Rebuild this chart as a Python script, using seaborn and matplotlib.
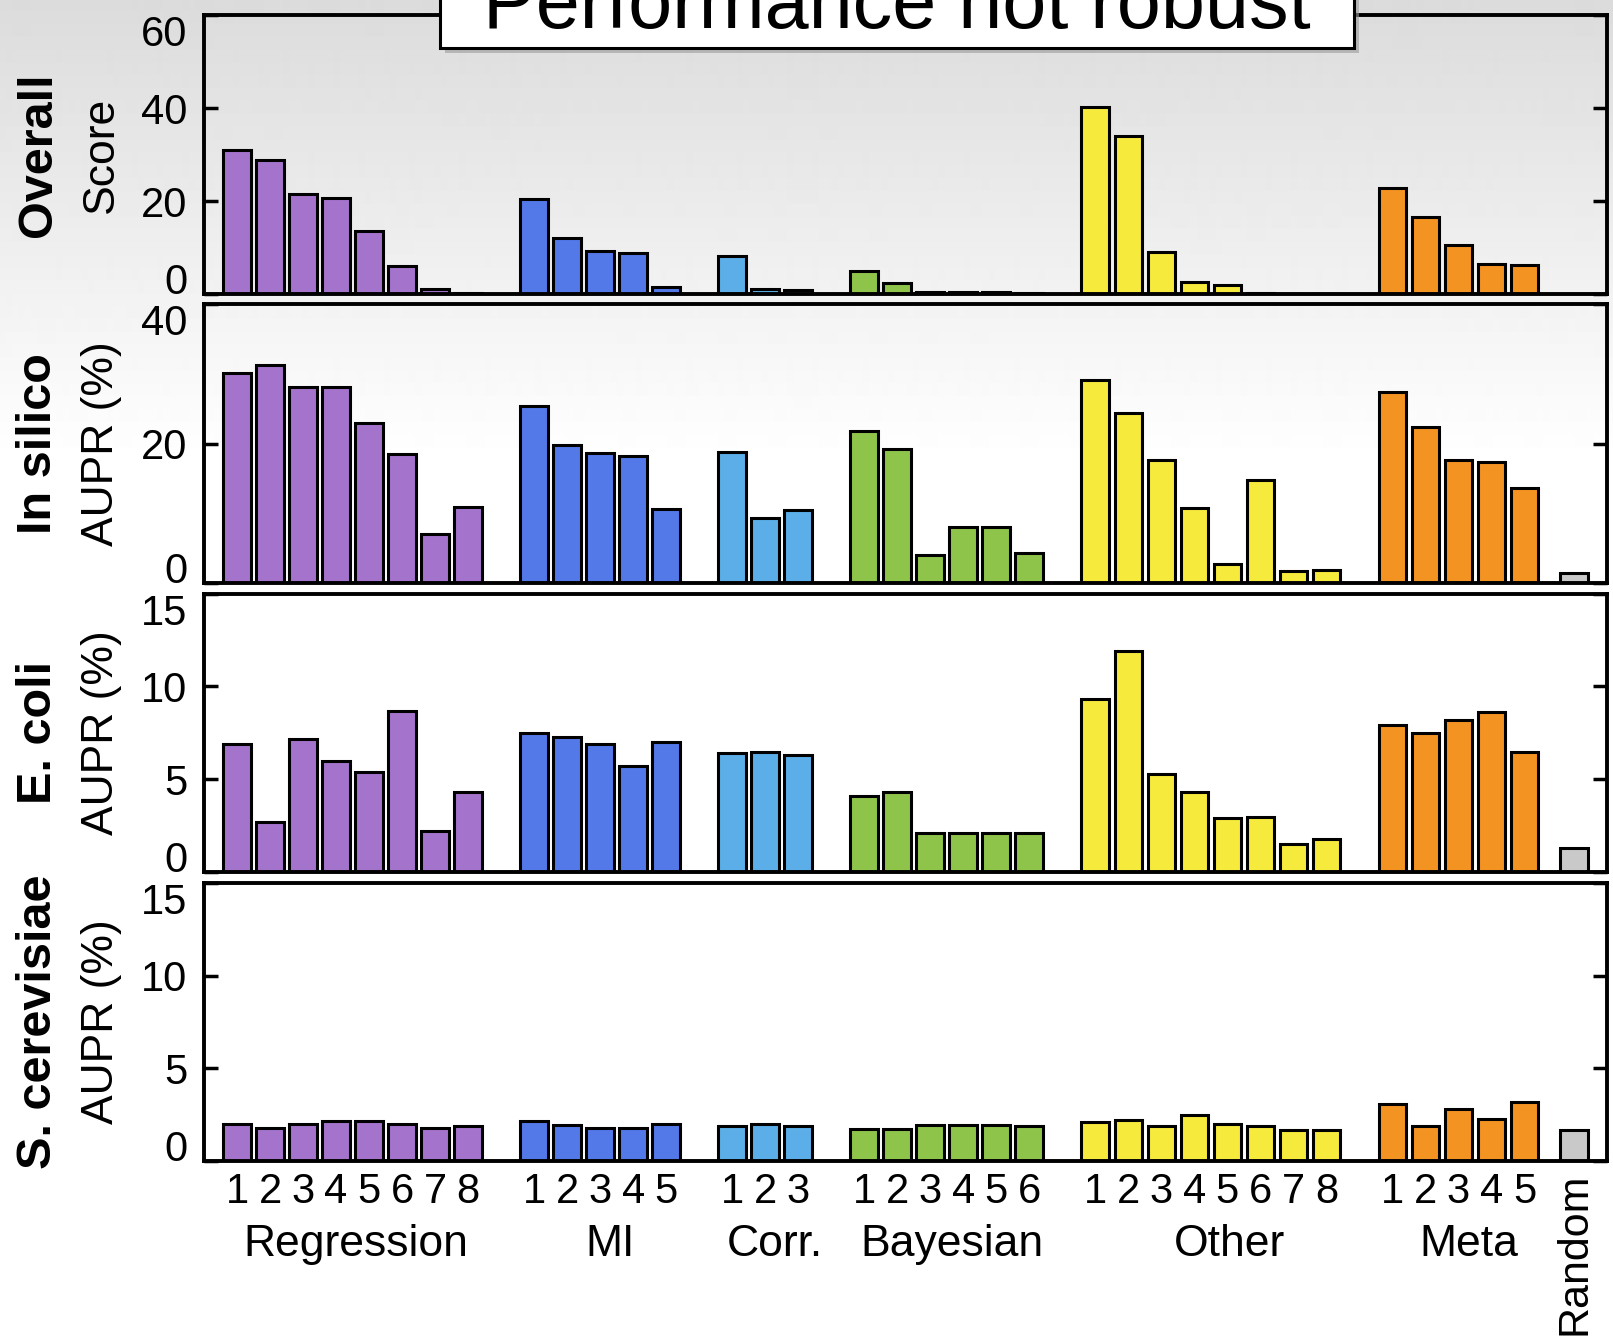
import numpy as np
import pandas as pd
import seaborn as sns
import matplotlib.pyplot as plt
from matplotlib.patches import Rectangle
from matplotlib.transforms import blended_transform_factory

# Method groups and how many methods each one has
groups = ['Regression', 'MI', 'Corr.', 'Bayesian', 'Other', 'Meta', 'Random']
group_sizes = [8, 5, 3, 6, 8, 5, 1]
palette = {'Regression': '#A474CC', 'MI': '#5378E8', 'Corr.': '#5CAEE8',
           'Bayesian': '#8FC44B', 'Other': '#F6EA3D', 'Meta': '#F39322',
           'Random': '#C9C9C9'}

# Values (order: groups above, Random last)
overall = [31.0, 28.8, 21.5, 20.8, 13.5, 6.0, 1.1, 0.3,
           20.4, 12.2, 9.3, 8.9, 1.5,
           8.2, 1.2, 0.8,
           4.9, 2.4, 0.5, 0.4, 0.4, 0.2,
           40.3, 34.1, 9.1, 2.7, 2.0, 0.3, 0.0, 0.0,
           22.8, 16.6, 10.6, 6.4, 6.2,
           np.nan]
in_silico = [30.1, 31.3, 28.2, 28.2, 23.0, 18.6, 7.1, 10.9,
             25.5, 19.8, 18.7, 18.2, 10.6,
             18.9, 9.4, 10.5,
             21.8, 19.2, 4.1, 8.0, 8.0, 4.3,
             29.1, 24.5, 17.7, 10.8, 2.7, 14.8, 1.8, 1.9,
             27.5, 22.4, 17.7, 17.4, 13.6,
             1.5]
e_coli = [6.9, 2.7, 7.2, 6.0, 5.4, 8.7, 2.2, 4.3,
          7.5, 7.3, 6.9, 5.7, 7.0,
          6.4, 6.5, 6.3,
          4.1, 4.3, 2.1, 2.1, 2.1, 2.1,
          9.3, 11.9, 5.3, 4.3, 2.9, 3.0, 1.5, 1.8,
          7.9, 7.5, 8.2, 8.6, 6.5,
          1.3]
s_cerevisiae = [2.0, 1.8, 2.0, 2.15, 2.15, 2.0, 1.8, 1.9,
                2.15, 1.95, 1.8, 1.8, 2.0,
                1.9, 2.0, 1.9,
                1.75, 1.75, 1.95, 1.95, 1.95, 1.9,
                2.1, 2.2, 1.9, 2.5, 2.0, 1.9, 1.7, 1.7,
                3.1, 1.9, 2.8, 2.3, 3.2,
                1.7]

panels = [('Overall', 'Score', overall, 60, [0, 20, 40, 60]),
          ('In silico', 'AUPR (%)', in_silico, 40, [0, 20, 40]),
          ('E. coli', 'AUPR (%)', e_coli, 15, [0, 5, 10, 15]),
          ('S. cerevisiae', 'AUPR (%)', s_cerevisiae, 15, [0, 5, 10, 15])]

# bar positions: gap of one empty slot between groups, half slot before Random
pos, grp, num = [], [], []
start = 0
for g, n in zip(groups, group_sizes):
    if g == 'Random':
        start -= 0.5
    pos += [start + i for i in range(n)]
    grp += [g] * n
    num += [str(i + 1) for i in range(n)]
    start += n + 1

# small nudges so group names sit like in the original
name_shift = [0.1, 0.3, 0.3, 0.15, 0.55, 0.3]

sns.set_style('ticks')
plt.rcParams['font.family'] = ['Liberation Sans', 'DejaVu Sans']
plt.rcParams.update({'text.color': 'black', 'axes.labelcolor': 'black',
                     'xtick.color': 'black', 'ytick.color': 'black'})

fig, axes = plt.subplots(4, 1, figsize=(16.13, 13.42), dpi=100, sharex=True)
fig.subplots_adjust(left=0.1265, right=0.9963, top=0.9885, bottom=0.1346, hspace=0.037)

# grey-to-white vertical gradient behind everything
bg = fig.add_axes([0, 0, 1, 1], zorder=-10)
rows = np.arange(1342)
shade = 0.86 + 0.14 * np.clip(rows / 460, 0, 1)
bg.imshow(shade[:, None], cmap='gray', vmin=0, vmax=1, aspect='auto',
          extent=[0, 1, 0, 1], interpolation='bilinear')
bg.axis('off')

for ax, (name, ylab, vals, ymax, ticks) in zip(axes, panels):
    df = pd.DataFrame({'pos': pos, 'value': vals, 'group': grp}).dropna()
    sns.barplot(data=df, x='pos', y='value', hue='group', hue_order=groups,
                palette=palette, native_scale=True, width=0.84, dodge=False,
                saturation=1, edgecolor='black', linewidth=2.2,
                errorbar=None, legend=False, ax=ax)
    ax.set_facecolor('none')
    ax.set_xlim(-1, 41.5)
    ax.set_ylim(0, ymax)
    ax.set_yticks(ticks)
    ax.tick_params(axis='y', direction='in', length=10, width=2.5,
                   right=True, labelsize=30, pad=12)
    ax.tick_params(axis='x', length=0)
    labs = ax.get_yticklabels()
    labs[0].set_va('baseline')
    labs[-1].set_va('top')
    for sp in ax.spines.values():
        sp.set_visible(True)
        sp.set_linewidth(2.8)
        sp.set_color('black')
    ax.set_ylabel(ylab, fontsize=32, labelpad=14)
    ax.set_xlabel('')
    ax.text(0.024, ax.get_position().y0 + ax.get_position().height / 2, name,
            transform=fig.transFigure, rotation=90, fontsize=35,
            fontweight='bold', ha='center', va='center')

# bottom axis: method numbers, group names and Random
bottom = axes[-1]
bottom.set_xticks(pos[:-1])
bottom.set_xticklabels(num[:-1], fontsize=30)
bottom.tick_params(axis='x', pad=8)
trans = blended_transform_factory(bottom.transData, bottom.transAxes)
for g, shift in zip(groups[:-1], name_shift):
    xs = [p for p, gg in zip(pos, grp) if gg == g]
    bottom.text(np.mean(xs) + shift, -0.30, g, transform=trans, fontsize=32,
                ha='center', va='center')
bottom.text(pos[-1], -0.04, 'Random', transform=trans, fontsize=31,
            rotation=90, ha='center', va='top')

# title box with a small drop shadow
x0, x1 = 440 / 1613, 1354 / 1613
y0 = 1 - 48 / 1342
fig.add_artist(Rectangle((x0 + 5 / 1613, y0 - 5 / 1342), x1 - x0, 0.1,
                         transform=fig.transFigure, facecolor='#9a9a9a',
                         edgecolor='none', alpha=0.6, zorder=10))
fig.add_artist(Rectangle((x0, y0), x1 - x0, 0.1, transform=fig.transFigure,
                         facecolor='white', edgecolor='black', linewidth=2.2,
                         zorder=11))
fig.text((x0 + x1) / 2, 1 - 28 / 1342, 'Performance not robust', fontsize=57,
         ha='center', va='baseline', zorder=12)

fig.savefig('out.png', dpi=100)
